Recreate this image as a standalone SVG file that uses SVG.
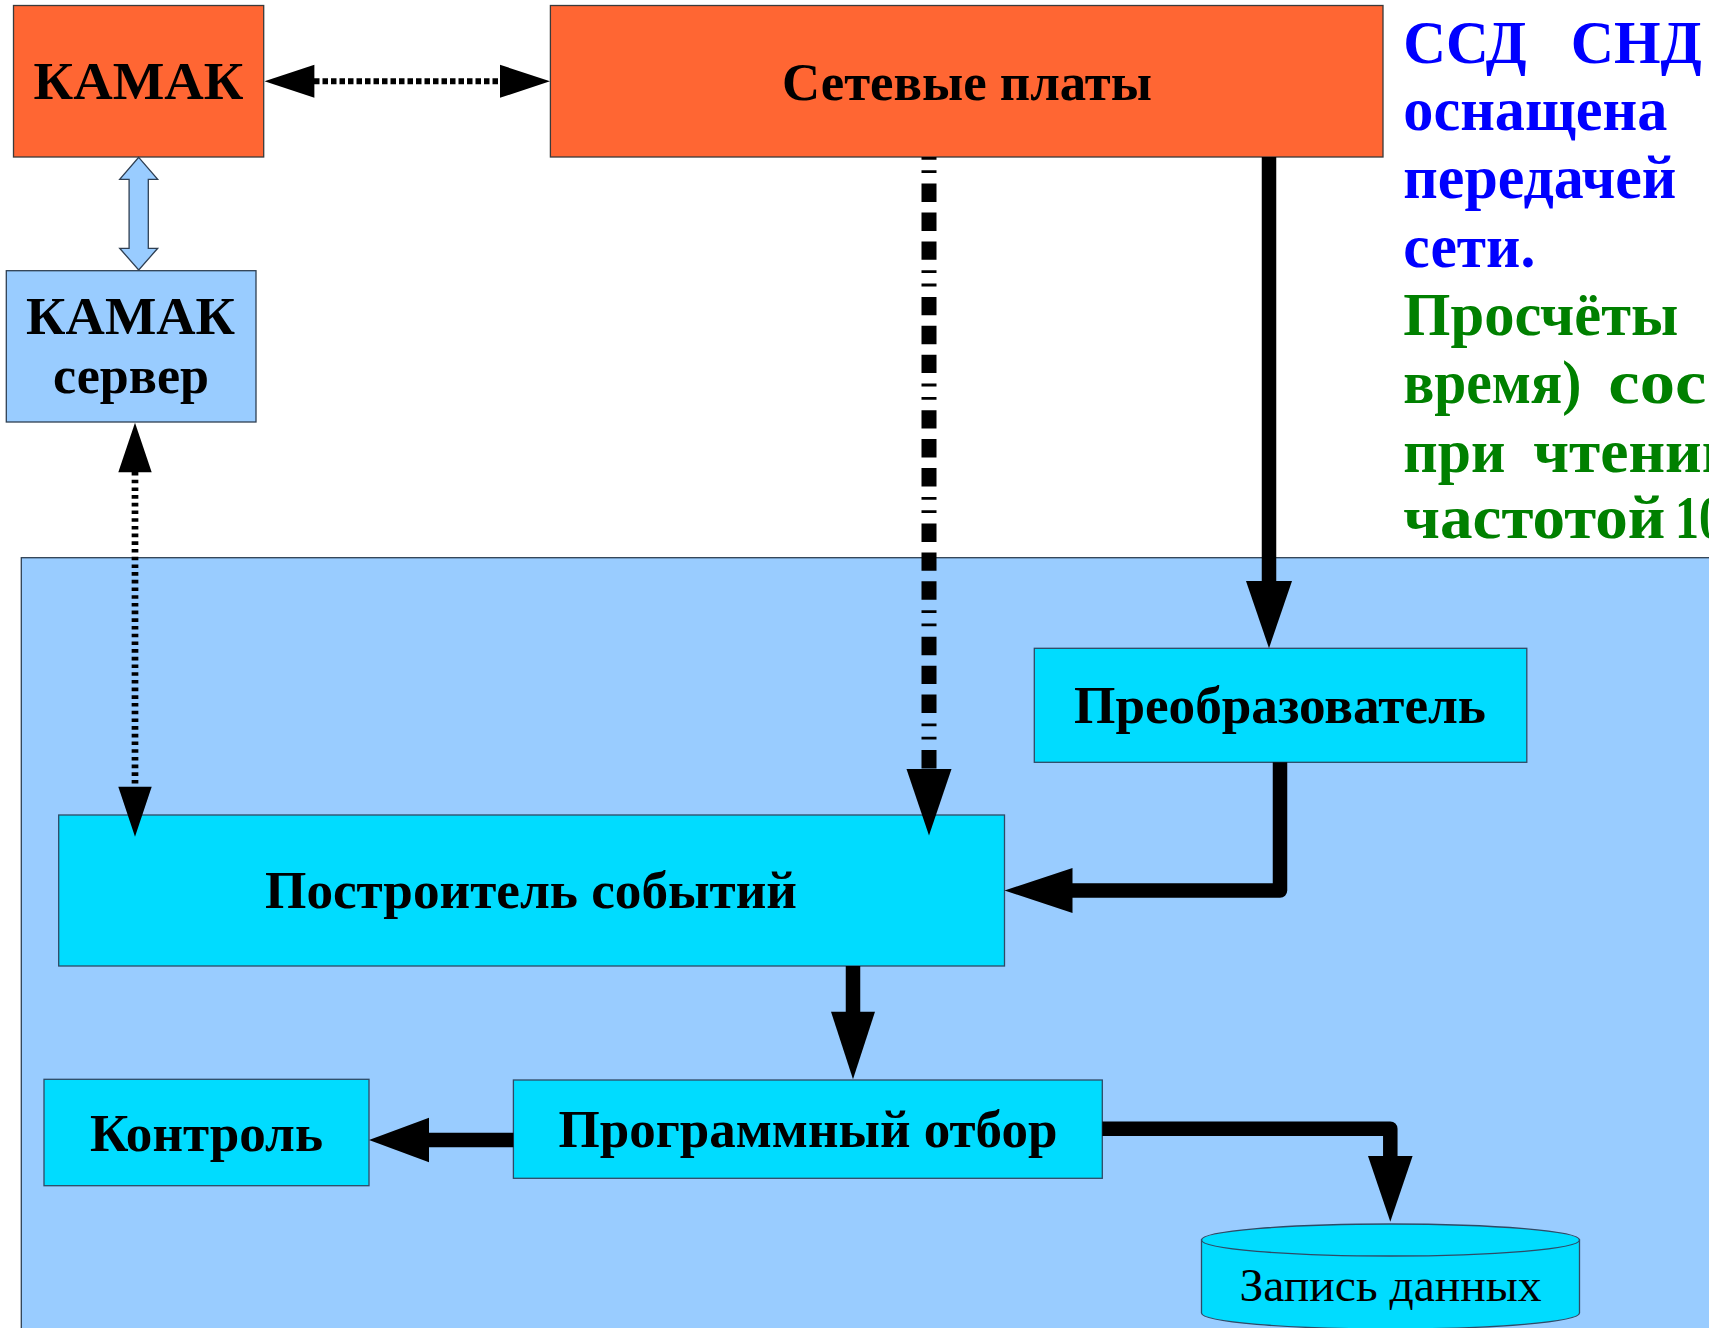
<svg xmlns="http://www.w3.org/2000/svg" width="1709" height="1328" viewBox="0 0 1709 1328">
<style>
.orange{fill:#ff6633;stroke:#3a3a3a;stroke-width:1.3}
.lblue{fill:#99ccff;stroke:#2f3f52;stroke-width:1.3}
.cyan{fill:#00dcff;stroke:#2f4a66;stroke-width:1.3}
.lbl{font-family:"Liberation Serif","Times New Roman",serif;font-weight:bold;font-size:53px;fill:#000;text-anchor:middle}
.note{font-family:"Liberation Serif","Times New Roman",serif;font-weight:bold;font-size:62px}
.blue{fill:#0000ff}
.green{fill:#008000}
.head{fill:#000;stroke:none}
.thick{fill:none;stroke:#000;stroke-width:14.5;stroke-linejoin:round}
</style>
<rect width="1709" height="1328" fill="#ffffff"/>
<g id="container">
<rect x="21.3" y="557.7" width="1720" height="800" class="lblue"/>
</g>
<g id="kamak">
<rect x="13.5" y="5.5" width="250.2" height="151.5" class="orange"/>
<text x="138.5" y="99.3" class="lbl" textLength="210" lengthAdjust="spacingAndGlyphs">КАМАК</text>
</g>
<g id="network-boards">
<rect x="550.4" y="5.5" width="832.6" height="151.5" class="orange"/>
<text x="967" y="100" class="lbl" textLength="370" lengthAdjust="spacingAndGlyphs">Сетевые платы</text>
</g>
<g id="kamak-server">
<rect x="6.3" y="270.7" width="249.7" height="151.3" class="lblue"/>
<text x="130.6" y="334.3" class="lbl" textLength="209" lengthAdjust="spacingAndGlyphs">КАМАК</text>
<text x="131" y="393" class="lbl" textLength="156" lengthAdjust="spacingAndGlyphs">сервер</text>
</g>
<g id="converter">
<rect x="1034.3" y="648.3" width="492.5" height="114" class="cyan"/>
<text x="1280" y="723.3" class="lbl" textLength="412" lengthAdjust="spacingAndGlyphs">Преобразователь</text>
</g>
<g id="event-builder">
<rect x="58.7" y="815" width="945.8" height="151" class="cyan"/>
<text x="531" y="908.3" class="lbl" textLength="532" lengthAdjust="spacingAndGlyphs">Построитель событий</text>
</g>
<g id="control">
<rect x="44" y="1079.3" width="325" height="106.4" class="cyan"/>
<text x="206.5" y="1150.7" class="lbl" textLength="233" lengthAdjust="spacingAndGlyphs">Контроль</text>
</g>
<g id="software-selection">
<rect x="513.4" y="1080" width="588.9" height="98.3" class="cyan"/>
<text x="807.9" y="1146.7" class="lbl" textLength="499" lengthAdjust="spacingAndGlyphs">Программный отбор</text>
</g>
<g id="data-recording">
<path d="M1201.5,1240 L1201.5,1313 A189,16 0 0 0 1579.5,1313 L1579.5,1240 Z" class="cyan"/>
<ellipse cx="1390.5" cy="1240" rx="189" ry="16" class="cyan"/>
<text x="1390.5" y="1300.7" font-family="Liberation Serif, Times New Roman, serif" font-size="47" fill="#000" text-anchor="middle" textLength="302" lengthAdjust="spacingAndGlyphs">Запись данных</text>
</g>
<g id="connectors">
<line x1="314" y1="81.3" x2="501" y2="81.3" stroke="#000" stroke-width="6" stroke-dasharray="5.5 3"/>
<polygon class="head" points="264.5,81.3 314.4,64.8 314.4,97.8"/>
<polygon class="head" points="550,81.3 500,64.8 500,97.8"/>
<polygon points="138.7,157.3 157.7,179.3 148.3,179.3 148.3,248.3 157.7,248.3 138.7,270 119.7,248.3 129.1,248.3 129.1,179.3 119.7,179.3" fill="#99ccff" stroke="#2f3f52" stroke-width="1.3"/>
<line x1="135" y1="472" x2="135" y2="787" stroke="#000" stroke-width="6.7" stroke-dasharray="3.6 4.1"/>
<polygon class="head" points="135,422.7 118.3,472.3 151.7,472.3"/>
<polygon class="head" points="135,836.7 118.3,786.7 151.7,786.7"/>
<line x1="929" y1="157" x2="929" y2="769" stroke="#000" stroke-width="15" stroke-dasharray="2.8 10.5 2.8 10.5 18.4 10.5 18.4 10.5 18.4 10.5"/>
<polygon class="head" points="929,835.6 906.5,769 951.5,769"/>
<line x1="1269" y1="157" x2="1269" y2="582" stroke="#000" stroke-width="14.5"/>
<polygon class="head" points="1269,648.3 1246,581 1292,581"/>
<polyline class="thick" points="1280,762.3 1280,890.5 1072,890.5"/>
<polygon class="head" points="1004.5,890.5 1072.5,868 1072.5,913"/>
<line x1="853" y1="966" x2="853" y2="1012" stroke="#000" stroke-width="14.5"/>
<polygon class="head" points="853,1079.3 831,1011.7 875,1011.7"/>
<line x1="513.4" y1="1140" x2="428" y2="1140" stroke="#000" stroke-width="14.5"/>
<polygon class="head" points="369,1140 429,1117.7 429,1162.3"/>
<polyline class="thick" points="1102.3,1128.7 1390.3,1128.7 1390.3,1157"/>
<polygon class="head" points="1390.3,1221.7 1368,1156 1412.6,1156"/>
</g>
<g id="note" class="note">
<text class="blue" y="63.3"><tspan x="1403.3" textLength="123.3" lengthAdjust="spacingAndGlyphs">ССД</tspan><tspan x="1570.7" textLength="131" lengthAdjust="spacingAndGlyphs">СНД</tspan></text>
<text class="blue" x="1403.3" y="130" textLength="264" lengthAdjust="spacingAndGlyphs">оснащена</text>
<text class="blue" x="1403.3" y="197.5" textLength="273" lengthAdjust="spacingAndGlyphs">передачей</text>
<text class="blue" x="1403.3" y="266.5" textLength="132" lengthAdjust="spacingAndGlyphs">сети.</text>
<text class="green" x="1403.3" y="335" textLength="275" lengthAdjust="spacingAndGlyphs">Просчёты</text>
<text class="green" y="403.3"><tspan x="1403.3" textLength="178" lengthAdjust="spacingAndGlyphs">время)</tspan><tspan x="1608.3" textLength="98" lengthAdjust="spacingAndGlyphs">сос</tspan></text>
<text class="green" y="471.7"><tspan x="1403.3" textLength="102" lengthAdjust="spacingAndGlyphs">при</tspan><tspan x="1533.3" textLength="205" lengthAdjust="spacingAndGlyphs">чтении</tspan></text>
<text class="green" y="538.3"><tspan x="1403.3" textLength="262" lengthAdjust="spacingAndGlyphs">частотой</tspan><tspan x="1675" textLength="48" lengthAdjust="spacingAndGlyphs">10</tspan></text>
</g>
</svg>
